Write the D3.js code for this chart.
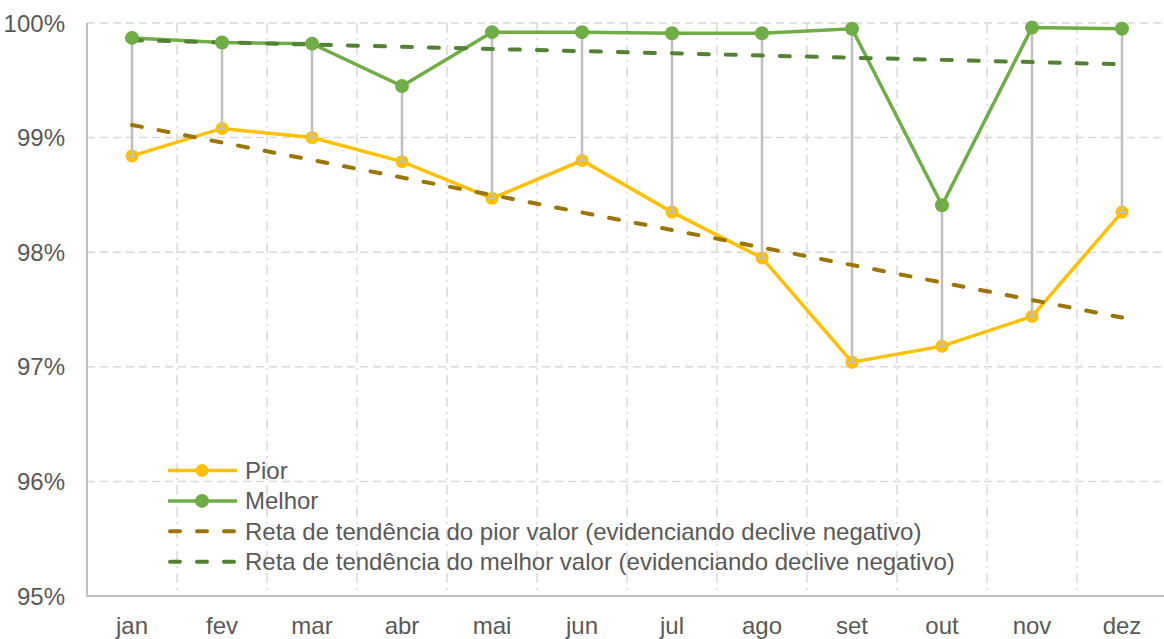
<!DOCTYPE html>
<html>
<head>
<meta charset="utf-8">
<script src="https://cdn.jsdelivr.net/npm/d3@7"></script>
<style>
  body { margin: 0; background: #fff; }
  text { font-family: "Liberation Sans", Arial, sans-serif; fill: #595959; }
</style>
</head>
<body>
<div id="field"></div>
<script>
'use strict';

// dados
const months = ['jan', 'fev', 'mar', 'abr', 'mai', 'jun', 'jul', 'ago', 'set', 'out', 'nov', 'dez'];
const pior = [98.84, 99.08, 99.00, 98.79, 98.47, 98.80, 98.35, 97.95, 97.04, 97.18, 97.44, 98.35];
const melhor = [99.87, 99.83, 99.82, 99.45, 99.92, 99.92, 99.91, 99.91, 99.95, 98.41, 99.96, 99.95];
// retas de tendência (valor em jan e em dez)
const trendPior = [99.11, 97.43];
const trendMelhor = [99.85, 99.64];
const yTicks = [95, 96, 97, 98, 99, 100];
const legendLabels = ['Pior', 'Melhor',
  'Reta de tendência do pior valor (evidenciando declive negativo)',
  'Reta de tendência do melhor valor (evidenciando declive negativo)'];

let w = 1164,
    h = 639,
    fs = '24px',
    svg = d3.select('#field').append('svg').attr('width', w).attr('height', h);

let xScale = d3.scaleBand().domain(months).range([87, 1167]).padding(0),
    yScale = d3.scaleLinear().domain([95, 100]).range([596, 23]),
    cx = function(m){ return xScale(m) + xScale.bandwidth() / 2; };

// grelha horizontal
svg.append('g').selectAll('line').data(yTicks.filter(function(d){ return d > 95; })).enter().append('line')
  .attr('x1', 87).attr('x2', 1167)
  .attr('y1', function(d){ return yScale(d); })
  .attr('y2', function(d){ return yScale(d); })
  .attr('stroke', '#d9d9d9').attr('stroke-width', 1.5).attr('stroke-dasharray', '8,5');

// grelha vertical (traço-ponto)
svg.append('g').selectAll('line').data(months.slice(1)).enter().append('line')
  .attr('x1', function(d){ return xScale(d); })
  .attr('x2', function(d){ return xScale(d); })
  .attr('y1', 23).attr('y2', 596)
  .attr('stroke', '#d9d9d9').attr('stroke-width', 1.5).attr('stroke-dasharray', '10,5,2,5');

// eixos
svg.append('line').attr('x1', 87).attr('x2', 87).attr('y1', 23).attr('y2', 597)
  .attr('stroke', '#bfbfbf').attr('stroke-width', 2);
svg.append('line').attr('x1', 86).attr('x2', 1167).attr('y1', 596).attr('y2', 596)
  .attr('stroke', '#bfbfbf').attr('stroke-width', 2);

svg.append('g').selectAll('text').data(yTicks).enter().append('text')
  .attr('x', 65)
  .attr('y', function(d){ return yScale(d) + 8.5; })
  .attr('text-anchor', 'end')
  .attr('font-size', fs)
  .text(function(d){ return d + '%'; });

svg.append('g').selectAll('text').data(months).enter().append('text')
  .attr('x', cx)
  .attr('y', 634)
  .attr('text-anchor', 'middle')
  .attr('font-size', fs)
  .text(function(d){ return d; });

// linhas de tendência
function trend(vals, color) {
  svg.append('line')
    .attr('x1', cx(months[0])).attr('x2', cx(months[months.length - 1]))
    .attr('y1', yScale(vals[0])).attr('y2', yScale(vals[1]))
    .attr('stroke', color).attr('stroke-width', 4)
    .attr('stroke-linecap', 'round').attr('stroke-dasharray', '10,17');
}

let line = d3.line()
  .x(function(d){ return cx(d.m); })
  .y(function(d){ return yScale(d.v); });

let piorData = months.map(function(m, i){ return {m: m, v: pior[i]}; }),
    melhorData = months.map(function(m, i){ return {m: m, v: melhor[i]}; });

// série pior
svg.append('path').datum(piorData).attr('d', line)
  .attr('fill', 'none').attr('stroke', '#ffc000').attr('stroke-width', 3.5);
svg.append('g').selectAll('circle').data(piorData).enter().append('circle')
  .attr('cx', function(d){ return cx(d.m); })
  .attr('cy', function(d){ return yScale(d.v); })
  .attr('r', 6.5).attr('fill', '#ffc000');

// linhas máximo-mínimo
svg.append('g').selectAll('line').data(months).enter().append('line')
  .attr('x1', cx).attr('x2', cx)
  .attr('y1', function(d, i){ return yScale(melhor[i]); })
  .attr('y2', function(d, i){ return yScale(pior[i]); })
  .attr('stroke', '#bfbfbf').attr('stroke-width', 2.5);
svg.append('g').selectAll('line').data(months).enter().append('line')
  .attr('x1', function(d){ return cx(d) - 4; })
  .attr('x2', function(d){ return cx(d) + 4; })
  .attr('y1', function(d, i){ return yScale(pior[i]); })
  .attr('y2', function(d, i){ return yScale(pior[i]); })
  .attr('stroke', '#bfbfbf').attr('stroke-width', 2);

trend(trendPior, '#9c7400');

// série melhor
svg.append('path').datum(melhorData).attr('d', line)
  .attr('fill', 'none').attr('stroke', '#70ad47').attr('stroke-width', 3.5);
trend(trendMelhor, '#548235');
svg.append('g').selectAll('circle').data(melhorData).enter().append('circle')
  .attr('cx', function(d){ return cx(d.m); })
  .attr('cy', function(d){ return yScale(d.v); })
  .attr('r', 7).attr('fill', '#70ad47');

// legenda
let legendStyle = [
  {color: '#ffc000', dash: null, r: 6.5},
  {color: '#70ad47', dash: null, r: 7},
  {color: '#9c7400', dash: '10,17', r: 0},
  {color: '#548235', dash: '10,17', r: 0}
];
let legend = svg.append('g').selectAll('g').data(legendLabels).enter().append('g')
  .attr('transform', function(d, i){ return 'translate(0,' + (470.5 + i * 30.4) + ')'; });
legend.append('line')
  .attr('x1', function(d, i){ return legendStyle[i].dash ? 170 : 168; })
  .attr('x2', 237).attr('y1', 0).attr('y2', 0)
  .attr('stroke', function(d, i){ return legendStyle[i].color; })
  .attr('stroke-width', function(d, i){ return legendStyle[i].dash ? 4 : 3.5; })
  .attr('stroke-linecap', function(d, i){ return legendStyle[i].dash ? 'round' : 'butt'; })
  .attr('stroke-dasharray', function(d, i){ return legendStyle[i].dash; });
legend.filter(function(d, i){ return legendStyle[i].r > 0; }).append('circle')
  .attr('cx', 202).attr('cy', 0)
  .attr('r', function(d, i){ return legendStyle[i].r; })
  .attr('fill', function(d, i){ return legendStyle[i].color; });
legend.append('text')
  .attr('x', 245).attr('y', 8.5)
  .attr('font-size', fs)
  .text(function(d){ return d; });
</script>
</body>
</html>
